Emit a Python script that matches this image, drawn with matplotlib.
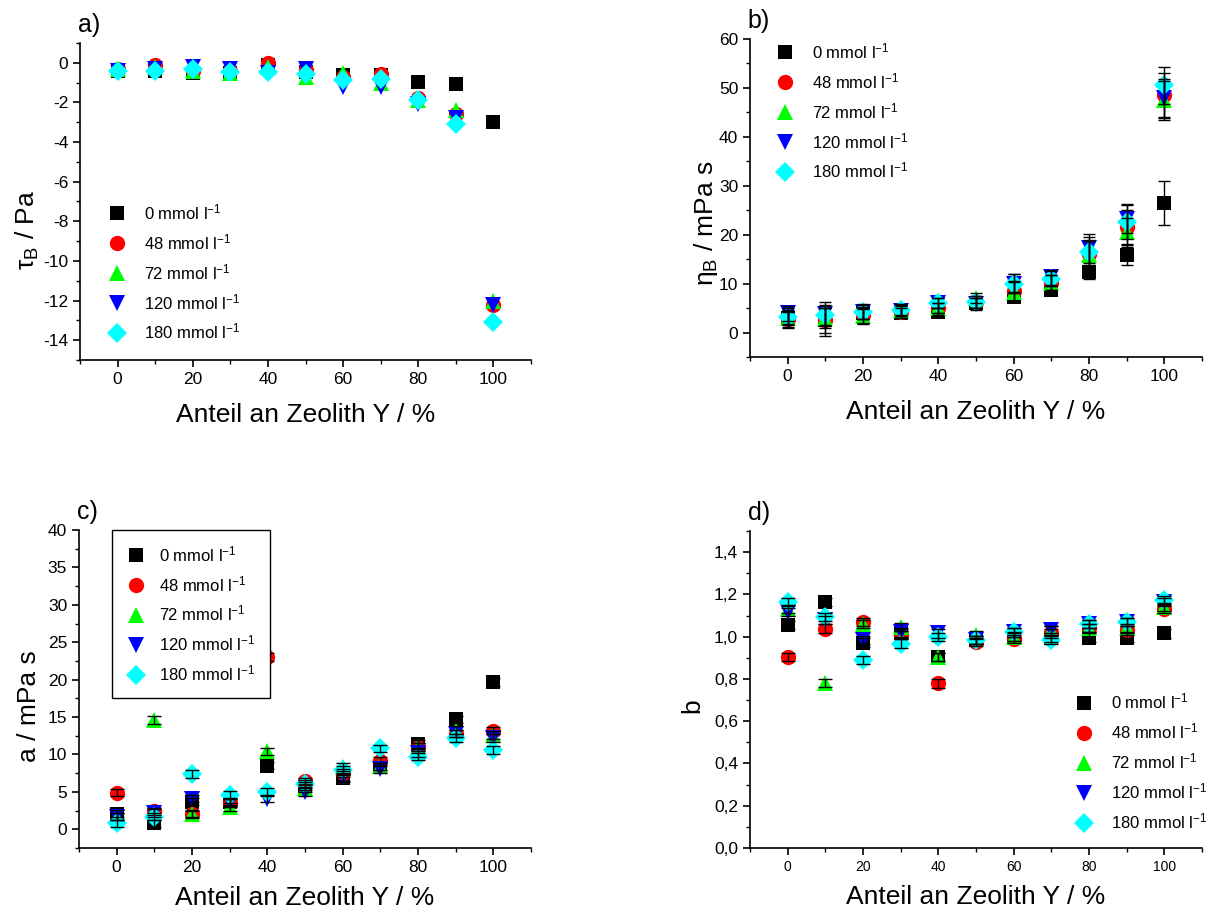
import matplotlib
matplotlib.use("Agg")
import matplotlib.pyplot as plt
from matplotlib.ticker import MultipleLocator, FuncFormatter

plt.rcParams['font.family'] = ['Liberation Sans', 'DejaVu Sans']
plt.rcParams['mathtext.fontset'] = 'custom'
plt.rcParams['mathtext.rm'] = 'Liberation Sans'
plt.rcParams['mathtext.it'] = 'Liberation Sans:italic'
plt.rcParams['mathtext.bf'] = 'Liberation Sans:bold'
plt.rcParams['axes.unicode_minus'] = False

x = [0, 10, 20, 30, 40, 50, 60, 70, 80, 90, 100]
labels = ["0 mmol l$^{-1}$", "48 mmol l$^{-1}$", "72 mmol l$^{-1}$",
          "120 mmol l$^{-1}$", "180 mmol l$^{-1}$"]
colors = ["#000000", "#ff0000", "#00ff00", "#0000ff", "#00ffff"]
markers = ["s", "o", "^", "v", "D"]
msizes = [10, 11, 12, 12, 10.5]

# a) tau_B / Pa
tau = [
    [-0.4, -0.4, -0.5, -0.5, -0.1, -0.45, -0.6, -0.6, -0.95, -1.07, -2.98],
    [-0.3, -0.1, -0.4, -0.4, 0.0, -0.35, -0.7, -0.55, -1.8, -2.6, -12.2],
    [-0.3, -0.2, -0.4, -0.5, -0.2, -0.7, -0.5, -1.0, -1.9, -2.4, -12.0],
    [-0.4, -0.3, -0.2, -0.3, -0.5, -0.3, -1.2, -1.2, -2.1, -2.8, -12.2],
    [-0.4, -0.4, -0.3, -0.45, -0.45, -0.55, -0.85, -0.8, -1.9, -3.1, -13.1],
]

# b) eta_B / mPa s
eta = [
    [3.0, 2.5, 4.0, 4.0, 4.3, 6.0, 7.2, 8.6, 12.4, 15.8, 26.4],
    [2.7, 2.5, 3.5, 4.2, 5.0, 6.2, 8.5, 10.2, 16.0, 21.5, 48.5],
    [3.0, 3.0, 3.3, 4.7, 5.0, 7.0, 8.3, 10.2, 15.8, 20.5, 47.5],
    [3.9, 3.8, 4.3, 4.5, 6.0, 5.8, 10.0, 11.3, 17.2, 23.3, 47.9],
    [3.2, 3.5, 4.2, 4.6, 6.0, 6.3, 10.0, 11.0, 16.5, 22.6, 50.5],
]
eta_err = [
    [2.0, 3.2, 1.2, 1.0, 0.8, 1.0, 1.0, 1.0, 1.5, 2.0, 4.5],
    [1.5, 2.5, 1.5, 1.2, 1.0, 1.2, 2.0, 1.5, 3.0, 3.5, 4.5],
    [1.5, 2.0, 1.5, 1.2, 1.0, 1.0, 2.0, 1.5, 3.0, 3.0, 4.0],
    [1.5, 2.5, 1.5, 1.2, 1.0, 1.2, 2.0, 1.5, 3.0, 3.0, 4.0],
    [1.5, 2.0, 1.5, 1.2, 1.0, 1.2, 2.0, 1.5, 3.0, 3.5, 3.8],
]

# c) a / mPa s
a_vals = [
    [2.1, 0.8, 3.7, 3.6, 8.5, 5.8, 6.8, 8.4, 11.4, 14.7, 19.7],
    [4.9, 2.4, 2.0, 3.5, 23.0, 6.4, 7.5, 9.1, 11.0, 12.8, 13.2],
    [1.7, 14.6, 2.1, 3.0, 10.4, 5.5, 8.3, 8.4, 11.0, 13.3, 12.6],
    [1.7, 2.2, 4.1, 3.7, 4.1, 5.0, 7.0, 8.0, 10.2, 12.8, 12.2],
    [0.8, 1.7, 7.4, 4.6, 5.0, 6.1, 7.9, 10.8, 9.7, 12.2, 10.6],
]
a_err = [0.5] * 11

# d) b
b_vals = [
    [1.054, 1.164, 0.972, 1.015, 0.905, 0.983, 0.999, 0.996, 0.996, 0.996, 1.015],
    [0.905, 1.038, 1.07, 1.007, 0.779, 0.975, 0.99, 1.015, 1.04, 1.03, 1.133],
    [1.13, 0.78, 1.06, 1.046, 0.905, 1.007, 1.0, 1.03, 1.04, 1.04, 1.14],
    [1.117, 1.078, 0.983, 1.02, 1.015, 0.983, 1.02, 1.03, 1.06, 1.07, 1.164],
    [1.164, 1.093, 0.889, 0.967, 0.999, 0.983, 1.02, 0.983, 1.06, 1.07, 1.172],
]
b_err = [0.02] * 11

fig = plt.figure(figsize=(12.13, 9.13), dpi=100)
W, H = 1213.0, 913.0


def make_ax(l, r, t, b):
    return fig.add_axes([l / W, (H - b) / H, (r - l) / W, (b - t) / H])


axA = make_ax(80, 531, 43, 360)
axB = make_ax(750, 1202, 39, 357)
axC = make_ax(79, 531, 530, 848)
axD = make_ax(750, 1202, 531, 848)


def style(ax, ylim, ymaj, ymin, xlabelsize=12.5, pad=12):
    ax.set_xlim(-10, 110)
    ax.set_ylim(*ylim)
    for s in ("top", "right"):
        ax.spines[s].set_visible(False)
    for s in ("left", "bottom"):
        ax.spines[s].set_linewidth(1.2)
    ax.xaxis.set_major_locator(MultipleLocator(20))
    ax.xaxis.set_minor_locator(MultipleLocator(10))
    ax.yaxis.set_major_locator(MultipleLocator(ymaj))
    ax.yaxis.set_minor_locator(MultipleLocator(ymin))
    ax.tick_params(which="major", direction="out", length=5, width=1.2, labelsize=12.5)
    ax.tick_params(which="minor", direction="out", length=3, width=1.0)
    ax.tick_params(axis="x", labelsize=xlabelsize)
    ax.set_xlabel("Anteil an Zeolith Y / %", fontsize=19, labelpad=pad)


def draw(ax, data, err=None, capsize=4):
    for i, ys in enumerate(data):
        ax.plot(x, ys, linestyle="none", marker=markers[i], ms=msizes[i],
                color=colors[i], markeredgewidth=0, label=labels[i], zorder=2 + i * 0.1)
    if err is not None:
        for i, ys in enumerate(data):
            e = err[i] if isinstance(err[0], list) else err
            ax.errorbar(x, ys, yerr=e, fmt="none", ecolor="black", elinewidth=1.0,
                        capsize=capsize, capthick=1.0, zorder=3)


def leg(ax, anchor, frame=False, tpad=1.0, bpad=1.0):
    lg = ax.legend(loc="upper left", bbox_to_anchor=anchor, frameon=frame, fontsize=12,
                   handletextpad=tpad, labelspacing=0.6, borderpad=bpad,
                   borderaxespad=0, handlelength=1.2, fancybox=False, edgecolor="black",
                   framealpha=1.0)
    lg.set_zorder(10)
    if frame:
        lg.get_frame().set_linewidth(1.0)


# a
draw(axA, tau)
style(axA, (-15, 1), 2, 1)
axA.set_ylabel("τ$_\\mathrm{B}$ / Pa", fontsize=19)
axA.yaxis.set_label_coords(-0.086, 0.41)
leg(axA, (0.024, 0.55))

# b
draw(axB, eta, eta_err)
style(axB, (-5, 60), 10, 5)
axB.set_ylabel("η$_\\mathrm{B}$ / mPa s", fontsize=19)
axB.yaxis.set_label_coords(-0.067, 0.42)
leg(axB, (0.019, 1.045))

# c
draw(axC, a_vals, a_err, capsize=5)
style(axC, (-2.5, 40), 5, 2.5, pad=8)
axC.set_ylabel("a / mPa s", fontsize=19)
axC.yaxis.set_label_coords(-0.084, 0.447)
leg(axC, (0.073, 1.0), frame=True, tpad=0.8, bpad=0.85)

# d
draw(axD, b_vals, b_err, capsize=5)
style(axD, (0, 1.5), 0.2, 0.1, xlabelsize=10, pad=8)
axD.yaxis.set_major_formatter(FuncFormatter(lambda v, p: ("%.1f" % v).replace(".", ",")))
axD.set_ylabel("b", fontsize=19)
axD.yaxis.set_label_coords(-0.102, 0.45)
leg(axD, (0.68, 0.545))

for ax, t in ((axA, "a)"), (axB, "b)"), (axC, "c)"), (axD, "d)")):
    ax.text(-0.005, 1.02, t, transform=ax.transAxes, fontsize=18, ha="left", va="bottom")

fig.savefig("out.png", dpi=100)
